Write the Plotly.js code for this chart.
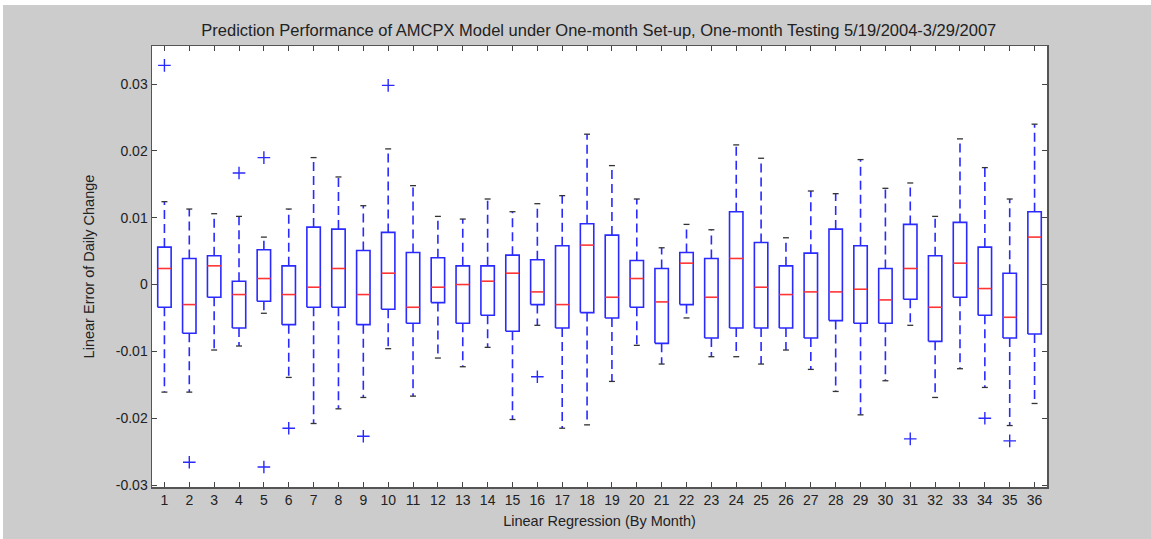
<!DOCTYPE html>
<html>
<head>
<meta charset="utf-8">
<script src="https://cdn.plot.ly/plotly-3.0.1.min.js"></script>
<style>html,body{margin:0;padding:0;background:#ffffff;}#chart{position:absolute;left:3px;top:5px;width:1148px;height:534px;}</style>
</head>
<body>
<div id="chart"></div>
<script>
// Categories (months)
const months = [1,2,3,4,5,6,7,8,9,10,11,12,13,14,15,16,17,18,19,20,21,22,23,24,25,26,27,28,29,30,31,32,33,34,35,36];
// Box statistics
const upperWhisker = [0.0124,0.0113,0.0106,0.0102,0.0071,0.0113,0.0190,0.0161,0.0118,0.0203,0.0148,0.0102,0.0098,0.0128,0.0109,0.0121,0.0133,0.0225,0.0178,0.0128,0.0055,0.0090,0.0082,0.0209,0.0189,0.0070,0.0140,0.0136,0.0187,0.0144,0.0152,0.0102,0.0218,0.0175,0.0128,0.0240];
const q3 = [0.0056,0.0039,0.0043,0.0005,0.0052,0.0028,0.0086,0.0083,0.0051,0.0078,0.0048,0.0040,0.0028,0.0028,0.0044,0.0037,0.0058,0.0091,0.0074,0.0036,0.0024,0.0048,0.0039,0.0109,0.0063,0.0028,0.0047,0.0083,0.0058,0.0024,0.0090,0.0043,0.0093,0.0056,0.0017,0.0109];
const median = [0.0024,-0.0030,0.0028,-0.0015,0.0009,-0.0015,-0.0004,0.0024,-0.0015,0.0017,-0.0034,-0.0004,0.0000,0.0005,0.0017,-0.0011,-0.0030,0.0059,-0.0019,0.0009,-0.0026,0.0032,-0.0019,0.0039,-0.0004,-0.0015,-0.0011,-0.0011,-0.0007,-0.0023,0.0024,-0.0034,0.0032,-0.0006,-0.0049,0.0071];
const q1 = [-0.0034,-0.0073,-0.0019,-0.0065,-0.0025,-0.0060,-0.0034,-0.0034,-0.0060,-0.0037,-0.0058,-0.0027,-0.0058,-0.0046,-0.0070,-0.0030,-0.0065,-0.0042,-0.0050,-0.0034,-0.0088,-0.0030,-0.0080,-0.0065,-0.0065,-0.0065,-0.0080,-0.0054,-0.0058,-0.0058,-0.0022,-0.0085,-0.0019,-0.0046,-0.0080,-0.0074];
const lowerWhisker = [-0.0161,-0.0161,-0.0098,-0.0092,-0.0043,-0.0139,-0.0208,-0.0186,-0.0169,-0.0096,-0.0167,-0.0110,-0.0123,-0.0094,-0.0202,-0.0061,-0.0215,-0.0210,-0.0145,-0.0091,-0.0119,-0.0050,-0.0108,-0.0108,-0.0119,-0.0098,-0.0127,-0.0160,-0.0195,-0.0144,-0.0061,-0.0169,-0.0126,-0.0154,-0.0211,-0.0178];
// Outliers
const outlierMonth = [1,2,4,5,5,6,9,10,16,31,34,35];
const outlierValue = [0.0328,-0.0266,0.0167,0.0190,-0.0273,-0.0215,-0.0227,0.0298,-0.0138,-0.0231,-0.0200,-0.0234];
const yTickVals = [-0.03,-0.02,-0.01,0,0.01,0.02,0.03];
const yTickText = ['-0.03','-0.02','-0.01','0','0.01','0.02','0.03'];

const bw = 0.27, cw = 0.12;
const boxX=[],boxY=[],medX=[],medY=[],whX=[],whY=[],capX=[],capY=[];
months.forEach((m,i)=>{
  boxX.push(m-bw,m+bw,m+bw,m-bw,m-bw,null);
  boxY.push(q1[i],q1[i],q3[i],q3[i],q1[i],null);
  medX.push(m-bw,m+bw,null); medY.push(median[i],median[i],null);
  whX.push(m,m,null,m,m,null);
  whY.push(q3[i],upperWhisker[i],null,q1[i],lowerWhisker[i],null);
  capX.push(m-cw,m+cw,null,m-cw,m+cw,null);
  capY.push(upperWhisker[i],upperWhisker[i],null,lowerWhisker[i],lowerWhisker[i],null);
});
const blue='#2a2aff';
const traces=[
  {x:whX,y:whY,mode:'lines',line:{color:blue,width:1.6,dash:'9px,5px'},hoverinfo:'skip',showlegend:false},
  {x:capX,y:capY,mode:'lines',line:{color:'#333333',width:1.3},hoverinfo:'skip',showlegend:false},
  {x:boxX,y:boxY,mode:'lines',line:{color:blue,width:1.6},hoverinfo:'skip',showlegend:false},
  {x:medX,y:medY,mode:'lines',line:{color:'#ff3535',width:1.6},hoverinfo:'skip',showlegend:false},
  {x:outlierMonth,y:outlierValue,mode:'markers',marker:{symbol:'cross-thin',size:9,line:{color:blue,width:1.4}},showlegend:false}
];
const fam='Liberation Sans, Arial, sans-serif';
const tickFont={family:fam,size:14,color:'#222'};
const titleFont={family:fam,size:14.5,color:'#222'};
const layout={
  width:1148,height:534,
  paper_bgcolor:'#cccccc',plot_bgcolor:'#ffffff',
  margin:{l:149,r:104,t:41,b:52},
  font:tickFont,
  title:{text:'Prediction Performance of AMCPX Model under One-month Set-up, One-month Testing 5/19/2004-3/29/2007',
    font:{family:fam,size:16.5,color:'#222'},x:0.519,xanchor:'center',y:0.953,yanchor:'middle'},
  xaxis:{range:[0.5,36.5],tickvals:months,ticktext:months.map(String),ticks:'inside',ticklen:5,tickcolor:'#444',
    showline:true,linecolor:'#555',linewidth:1.5,mirror:'ticks',showgrid:false,zeroline:false,
    title:{text:'Linear Regression (By Month)',font:titleFont,standoff:8},tickfont:tickFont},
  yaxis:{range:[-0.0303,0.0357],tickvals:yTickVals,ticktext:yTickText,ticks:'inside',ticklen:5,tickcolor:'#444',
    showline:true,linecolor:'#555',linewidth:1.5,mirror:'ticks',showgrid:false,zeroline:false,
    title:{text:'Linear Error of Daily Change',font:titleFont,standoff:17},tickfont:tickFont}
};
Plotly.newPlot('chart',traces,layout,{staticPlot:true,displayModeBar:false});
</script>
</body>
</html>
